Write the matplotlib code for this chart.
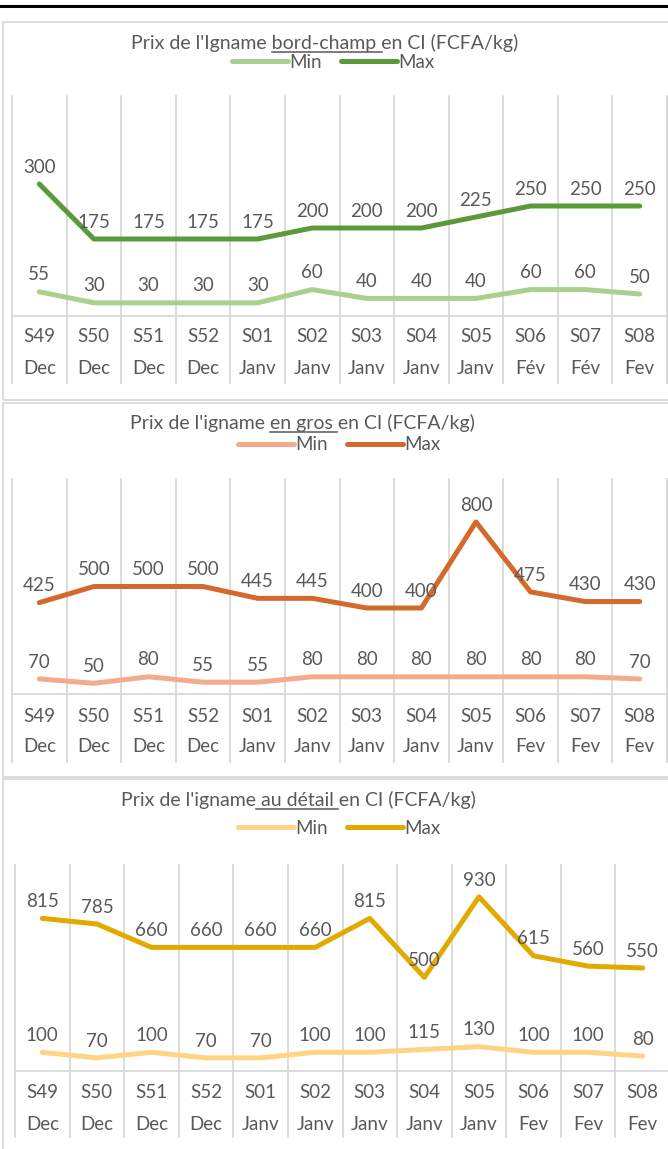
import matplotlib
matplotlib.use("Agg")
import matplotlib.pyplot as plt
from matplotlib.lines import Line2D
from matplotlib.patches import Rectangle
import matplotlib.transforms as mtransforms

plt.rcParams["font.family"] = ["Lato", "DejaVu Sans"]

weeks = ["S49", "S50", "S51", "S52", "S01", "S02", "S03", "S04", "S05", "S06", "S07", "S08"]
months_1 = ["Dec", "Dec", "Dec", "Dec", "Janv", "Janv", "Janv", "Janv", "Janv", "Fév", "Fév", "Fev"]
months_2 = ["Dec", "Dec", "Dec", "Dec", "Janv", "Janv", "Janv", "Janv", "Janv", "Fev", "Fev", "Fev"]

bord_min = [55, 30, 30, 30, 30, 60, 40, 40, 40, 60, 60, 50]
bord_max = [300, 175, 175, 175, 175, 200, 200, 200, 225, 250, 250, 250]
gros_min = [70, 50, 80, 55, 55, 80, 80, 80, 80, 80, 80, 70]
gros_max = [425, 500, 500, 500, 445, 445, 400, 400, 800, 475, 430, 430]
detail_min = [100, 70, 100, 70, 70, 100, 100, 115, 130, 100, 100, 80]
detail_max = [815, 785, 660, 660, 660, 660, 815, 500, 930, 615, 560, 550]

W, H = 668, 1149
TXT = "#595959"
GRID = "#D9D9D9"
FS = 13.5
FS_TITLE = 14

fig = plt.figure(figsize=(W / 100, H / 100), dpi=100)
renderer = fig.canvas.get_renderer()


def fx(x):
    return x / W


def fy(y):
    return 1 - y / H


# top black rule
fig.add_artist(Line2D([0, 1], [fy(6), fy(6)], color="black", lw=2.2, transform=fig.transFigure))

panels = [
    dict(frame=(3, 22, 400), left=12, right=667, top=96, axis=316, row1=337, row2=369, gend=383,
         title=("Prix de l'Igname ", "bord-champ ", "en CI (FCFA/kg)"), tc=(325, 43), lc=(333, 62),
         ymax=500, vmin=bord_min, vmax=bord_max, months=months_1,
         cmin="#A9D08E", cmax="#5B9A3A"),
    dict(frame=(3, 403, 777), left=12, right=667, top=479, axis=694, row1=716, row2=747, gend=762,
         title=("Prix de l'igname ", "en gros ", "en CI (FCFA/kg)"), tc=(302, 423), lc=(339, 445),
         ymax=1000, vmin=gros_min, vmax=gros_max, months=months_2,
         cmin="#F4AB8C", cmax="#D5692B"),
    dict(frame=(3, 779, 1160), left=15, right=670, top=865, axis=1071, row1=1092, row2=1124, gend=1137,
         title=("Prix de l'igname", " au détail ", "en CI (FCFA/kg)"), tc=(298, 800), lc=(339, 828),
         ymax=1100, vmin=detail_min, vmax=detail_max, months=months_2,
         cmin="#FFD483", cmax="#E2AA00"),
]

for p in panels:
    x0, y0, y1 = p["frame"]
    fig.add_artist(Rectangle((fx(x0), fy(y1)), fx(W + 10 - x0), (y1 - y0) / H, fill=False,
                             edgecolor=GRID, lw=1.3, transform=fig.transFigure))

    ax = fig.add_axes([fx(p["left"]), fy(p["axis"]), (p["right"] - p["left"]) / W,
                       (p["axis"] - p["top"]) / H])
    ax.set_xlim(-0.5, len(weeks) - 0.5)
    ax.set_ylim(0, p["ymax"])
    for s in ["top", "left", "right"]:
        ax.spines[s].set_visible(False)
    ax.spines["bottom"].set_color(GRID)
    ax.spines["bottom"].set_linewidth(1.3)
    ax.set_xticks([])
    ax.set_yticks([])
    ax.patch.set_alpha(0)

    h = p["axis"] - p["top"]
    trans = mtransforms.blended_transform_factory(ax.transData, ax.transAxes)
    gbot = -(p["gend"] - p["axis"]) / h
    for i in range(len(weeks) + 1):
        ax.plot([i - 0.5, i - 0.5], [gbot, 1], color=GRID, lw=1.3, transform=trans,
                clip_on=False, zorder=0)
    for i, (wk, mo) in enumerate(zip(weeks, p["months"])):
        ax.text(i, -(p["row1"] - p["axis"]) / h, wk, transform=trans, ha="center", va="center",
                fontsize=FS, color=TXT)
        ax.text(i, -(p["row2"] - p["axis"]) / h, mo, transform=trans, ha="center", va="center",
                fontsize=FS, color=TXT)

    x = list(range(len(weeks)))
    lmin, = ax.plot(x, p["vmin"], color=p["cmin"], lw=3.6, solid_capstyle="round", label="Min")
    lmax, = ax.plot(x, p["vmax"], color=p["cmax"], lw=3.6, solid_capstyle="round", label="Max")
    for vals in (p["vmin"], p["vmax"]):
        for i, v in enumerate(vals):
            ax.annotate(str(v), (i, v), xytext=(0, 6), textcoords="offset points",
                        ha="center", va="bottom", fontsize=FS, color=TXT)

    # title with underlined middle part
    pre, mid, post = p["title"]
    tx, ty = p["tc"]
    t = fig.text(fx(tx), fy(ty), pre + mid + post, ha="center", va="center", fontsize=FS_TITLE, color=TXT)
    bb = t.get_window_extent(renderer)
    tp = fig.text(0, 0, pre, fontsize=FS_TITLE)
    tm = fig.text(0, 0, pre + mid, fontsize=FS_TITLE)
    w_pre = tp.get_window_extent(renderer).width
    w_mid = tm.get_window_extent(renderer).width
    tp.remove()
    tm.remove()
    uy = fy(ty + 9)
    fig.add_artist(Line2D([(bb.x0 + w_pre) / W, (bb.x0 + w_mid) / W], [uy, uy], color=TXT, lw=1.1,
                          transform=fig.transFigure))

    fig.legend(handles=[lmin, lmax], loc="center", bbox_to_anchor=(fx(p["lc"][0]), fy(p["lc"][1])),
               bbox_transform=fig.transFigure, ncol=2, frameon=False, fontsize=FS,
               handlelength=3.0, handletextpad=0.05, columnspacing=1.0, labelcolor=TXT,
               borderpad=0, borderaxespad=0)

fig.savefig("out.png", dpi=100)
